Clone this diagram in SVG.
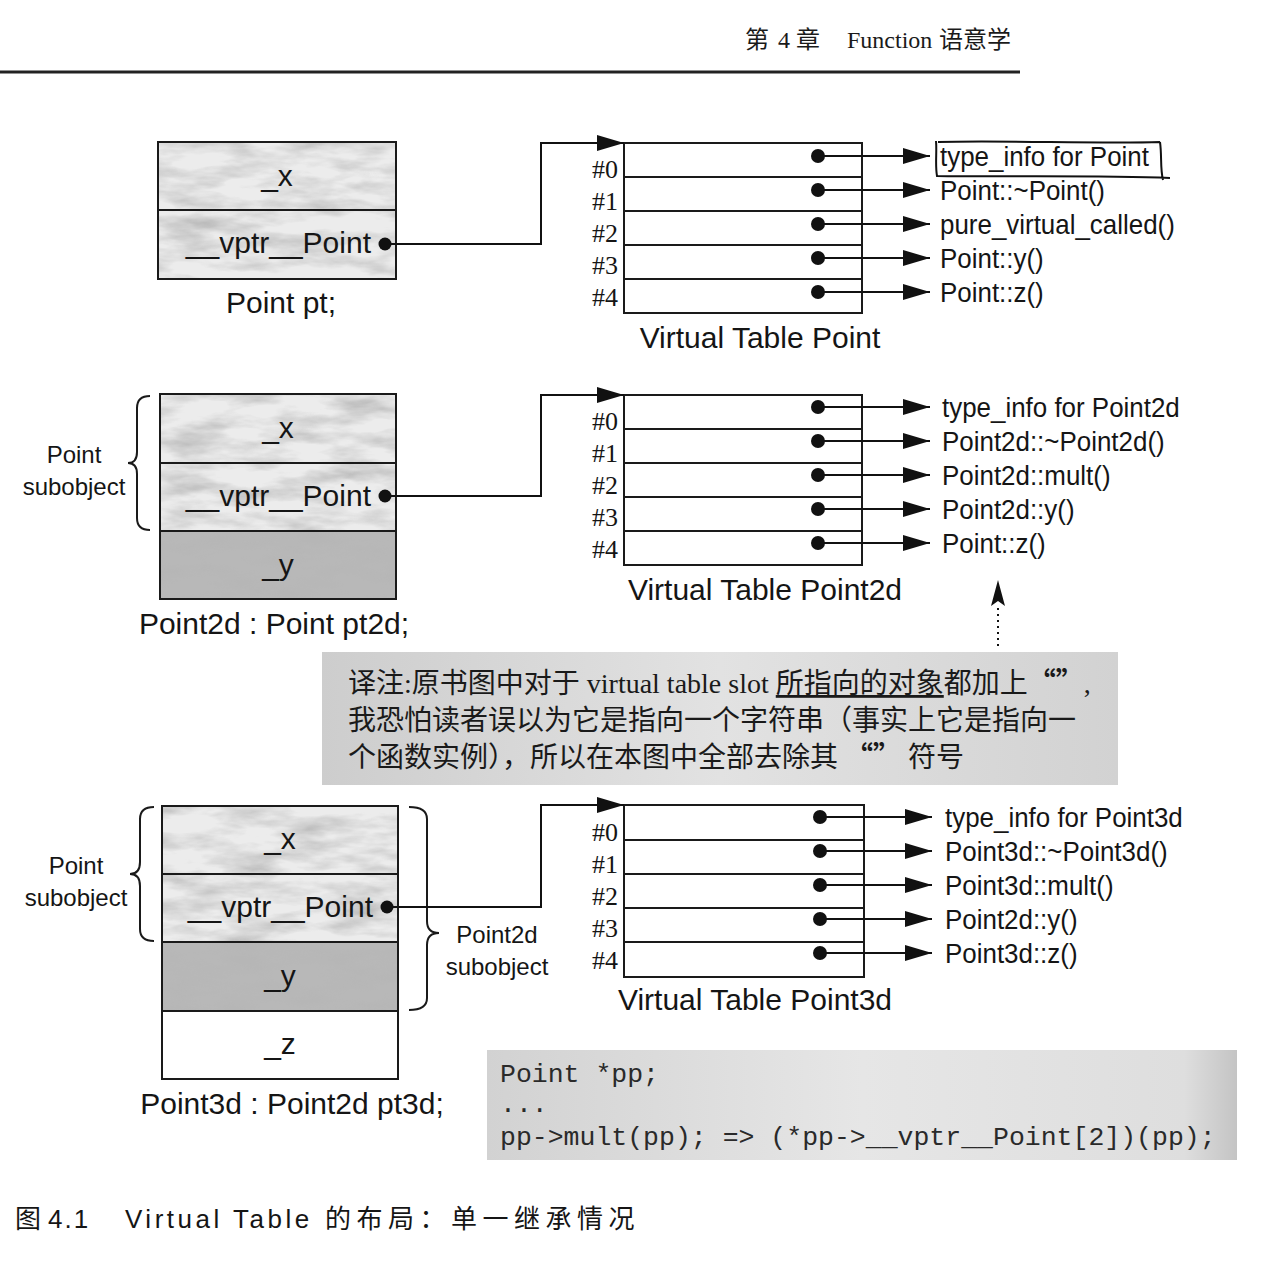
<svg xmlns="http://www.w3.org/2000/svg" width="1280" height="1270" viewBox="0 0 1280 1270">
<style>
.sans{font-family:"Liberation Sans",Arial,sans-serif;fill:#151515}
.big{font-size:30px}
.fn{font-size:28.5px}
.sub{font-size:24px}
.idx{font-family:"Liberation Serif","Times New Roman",serif;font-size:26px;fill:#151515}
.cell{stroke:#1a1a1a;stroke-width:2}
.tbl{fill:#fff;stroke:#1a1a1a;stroke-width:2}
.ln{fill:none;stroke:#111;stroke-width:2}
.dot{fill:#111}
.cjk{font-family:"Liberation Serif","Noto Sans CJK SC",serif;fill:#1a1a1a}
.q{font-family:"Noto Sans CJK SC",sans-serif;font-weight:bold}
.mono{font-family:"Liberation Mono","Courier New",monospace;font-size:26.5px;fill:#2a2a2a}
.brace{fill:none;stroke:#1a1a1a;stroke-width:2}
</style>
<defs>
<marker id="ah" viewBox="0 0 27 16" refX="27" refY="8" markerUnits="userSpaceOnUse" markerWidth="27" markerHeight="16" orient="auto">
<path d="M0,0 L27,8 L0,16 z" fill="#111"/>
</marker>
<filter id="tex" x="0" y="0" width="100%" height="100%">
<feTurbulence type="fractalNoise" baseFrequency="0.018 0.06" numOctaves="4" seed="7"/>
<feColorMatrix type="matrix" values="0 0 0 0 0.45  0 0 0 0 0.45  0 0 0 0 0.45  1.6 0 0 0 -0.62"/>
<feComposite in2="SourceGraphic" operator="in"/>
</filter>
<linearGradient id="noteg" x1="0" y1="0" x2="1" y2="0">
<stop offset="0" stop-color="#cdcdcd"/>
<stop offset="0.5" stop-color="#e2e2e2"/>
<stop offset="1" stop-color="#d2d2d2"/>
</linearGradient>
<linearGradient id="codeg" x1="0" y1="0" x2="1" y2="0">
<stop offset="0" stop-color="#d2d2d2"/>
<stop offset="0.5" stop-color="#e6e6e6"/>
<stop offset="0.93" stop-color="#dedede"/>
<stop offset="1" stop-color="#c4c4c4"/>
</linearGradient>
</defs>
<rect x="0" y="0" width="1280" height="1270" fill="#fff"/>

<g id="header">
<text class="cjk" font-size="24" y="48"><tspan x="745">第</tspan><tspan x="778">4</tspan><tspan x="796">章</tspan><tspan x="847">Function</tspan><tspan x="939">语意学</tspan></text>
<line x1="0" y1="72" x2="1020" y2="72" stroke="#222" stroke-width="3"/>
</g>

<!-- Section 1 -->
<g id="obj-pt">
<rect x="158" y="142" width="238" height="137" fill="#ececec"/>
<rect x="158" y="142" width="238" height="137" fill="#000" filter="url(#tex)"/>
<rect x="158" y="142" width="238" height="137" class="cell" fill="none"/>
<line x1="158" y1="210" x2="396" y2="210" class="cell"/>
<text class="sans big" x="277" y="186" text-anchor="middle">_x</text>
<text class="sans big" x="371" y="253" text-anchor="end">__vptr__Point</text>
<circle class="dot" cx="385" cy="244" r="6.5"/>
<text class="sans big" x="281" y="313" text-anchor="middle">Point pt;</text>
</g>

<g id="vtbl-point">
<rect class="tbl" x="624" y="143" width="238" height="170"/>
<line class="cell" x1="624" y1="177" x2="862" y2="177"/>
<line class="cell" x1="624" y1="211" x2="862" y2="211"/>
<line class="cell" x1="624" y1="245" x2="862" y2="245"/>
<line class="cell" x1="624" y1="279" x2="862" y2="279"/>
<text class="idx" x="618" y="178" text-anchor="end">#0</text>
<text class="idx" x="618" y="210" text-anchor="end">#1</text>
<text class="idx" x="618" y="242" text-anchor="end">#2</text>
<text class="idx" x="618" y="274" text-anchor="end">#3</text>
<text class="idx" x="618" y="306" text-anchor="end">#4</text>
<circle class="dot" cx="818" cy="156" r="7"/>
<circle class="dot" cx="818" cy="190" r="7"/>
<circle class="dot" cx="818" cy="224" r="7"/>
<circle class="dot" cx="818" cy="258" r="7"/>
<circle class="dot" cx="818" cy="292" r="7"/>
<text class="sans big" x="760" y="348" text-anchor="middle">Virtual Table Point</text>
</g>

<g id="fn-point">
<text class="sans fn" transform="matrix(0.91 0 0 1 940 166)">type_info for Point</text>
<path class="ln" d="M938,142 C1000,140 1100,144 1160,142 M1160,142 C1162,156 1160,168 1163,180 M936,141 C937,152 935,165 937,176 C1000,177 1100,175 1170,178"/>
<text class="sans fn" transform="matrix(0.91 0 0 1 940 200)">Point::~Point()</text>
<text class="sans fn" transform="matrix(0.91 0 0 1 940 234)">pure_virtual_called()</text>
<text class="sans fn" transform="matrix(0.91 0 0 1 940 268)">Point::y()</text>
<text class="sans fn" transform="matrix(0.91 0 0 1 940 302)">Point::z()</text>
</g>

<!-- Section 2 -->
<g id="obj-pt2d">
<rect x="160" y="394" width="236" height="137" fill="#ececec"/>
<rect x="160" y="394" width="236" height="137" fill="#000" filter="url(#tex)"/>
<rect x="160" y="531" width="236" height="68" fill="#b8b8b8"/>
<rect x="160" y="531" width="236" height="68" fill="#000" filter="url(#tex)" opacity="0.6"/>
<rect x="160" y="394" width="236" height="205" class="cell" fill="none"/>
<line x1="160" y1="463" x2="396" y2="463" class="cell"/>
<line x1="160" y1="531" x2="396" y2="531" class="cell"/>
<text class="sans big" x="278" y="438" text-anchor="middle">_x</text>
<text class="sans big" x="371" y="506" text-anchor="end">__vptr__Point</text>
<text class="sans big" x="278" y="575" text-anchor="middle">_y</text>
<circle class="dot" cx="385" cy="496" r="6.5"/>
<text class="sans big" x="274" y="634" text-anchor="middle">Point2d : Point pt2d;</text>
<path class="brace" d="M150,396 Q137,396 137,408 L137,452 Q137,463 128,463 Q137,463 137,474 L137,518 Q137,530 150,530"/>
<text class="sans sub" x="74" y="463" text-anchor="middle">Point</text>
<text class="sans sub" x="74" y="495" text-anchor="middle">subobject</text>
</g>

<g id="vtbl-point2d">
<rect class="tbl" x="624" y="395" width="238" height="170"/>
<line class="cell" x1="624" y1="429" x2="862" y2="429"/>
<line class="cell" x1="624" y1="463" x2="862" y2="463"/>
<line class="cell" x1="624" y1="497" x2="862" y2="497"/>
<line class="cell" x1="624" y1="531" x2="862" y2="531"/>
<text class="idx" x="618" y="430" text-anchor="end">#0</text>
<text class="idx" x="618" y="462" text-anchor="end">#1</text>
<text class="idx" x="618" y="494" text-anchor="end">#2</text>
<text class="idx" x="618" y="526" text-anchor="end">#3</text>
<text class="idx" x="618" y="558" text-anchor="end">#4</text>
<circle class="dot" cx="818" cy="407" r="7"/>
<circle class="dot" cx="818" cy="441" r="7"/>
<circle class="dot" cx="818" cy="475" r="7"/>
<circle class="dot" cx="818" cy="509" r="7"/>
<circle class="dot" cx="818" cy="543" r="7"/>
<text class="sans big" x="765" y="600" text-anchor="middle">Virtual Table Point2d</text>
</g>

<g id="fn-point2d">
<text class="sans fn" transform="matrix(0.91 0 0 1 942 417)">type_info for Point2d</text>
<text class="sans fn" transform="matrix(0.91 0 0 1 942 451)">Point2d::~Point2d()</text>
<text class="sans fn" transform="matrix(0.91 0 0 1 942 485)">Point2d::mult()</text>
<text class="sans fn" transform="matrix(0.91 0 0 1 942 519)">Point2d::y()</text>
<text class="sans fn" transform="matrix(0.91 0 0 1 942 553)">Point::z()</text>
</g>

<g id="note">
<rect x="322" y="652" width="796" height="133" fill="url(#noteg)"/>
<text class="cjk" font-size="28" x="348" y="693">译注:原书图中对于 virtual table slot <tspan text-decoration="underline">所指向的对象</tspan>都加上<tspan class="q">“”</tspan>,</text>
<text class="cjk" font-size="28" x="348" y="730">我恐怕读者误以为它是指向一个字符串（事实上它是指向一</text>
<text class="cjk" font-size="28" x="348" y="767">个函数实例），所以在本图中全部去除其 <tspan class="q">“”</tspan> 符号</text>
</g>

<!-- Section 3 -->
<g id="obj-pt3d">
<rect x="162" y="806" width="236" height="136" fill="#ececec"/>
<rect x="162" y="806" width="236" height="136" fill="#000" filter="url(#tex)"/>
<rect x="162" y="942" width="236" height="69" fill="#b8b8b8"/>
<rect x="162" y="942" width="236" height="69" fill="#000" filter="url(#tex)" opacity="0.6"/>
<rect x="162" y="1011" width="236" height="68" fill="#fff"/>
<rect x="162" y="806" width="236" height="273" class="cell" fill="none"/>
<line x1="162" y1="874" x2="398" y2="874" class="cell"/>
<line x1="162" y1="942" x2="398" y2="942" class="cell"/>
<line x1="162" y1="1011" x2="398" y2="1011" class="cell"/>
<text class="sans big" x="280" y="849" text-anchor="middle">_x</text>
<text class="sans big" x="373" y="917" text-anchor="end">__vptr__Point</text>
<text class="sans big" x="280" y="986" text-anchor="middle">_y</text>
<text class="sans big" x="280" y="1054" text-anchor="middle">_z</text>
<circle class="dot" cx="387" cy="907" r="6.5"/>
<text class="sans big" x="292" y="1114" text-anchor="middle">Point3d : Point2d pt3d;</text>
<path class="brace" d="M154,807 Q140,807 140,819 L140,862 Q140,874 130,874 Q140,874 140,886 L140,929 Q140,941 154,941"/>
<text class="sans sub" x="76" y="874" text-anchor="middle">Point</text>
<text class="sans sub" x="76" y="906" text-anchor="middle">subobject</text>
<path class="brace" d="M409,807 Q427,807 427,819 L427,921 Q427,933 439,933 Q427,933 427,945 L427,998 Q427,1010 409,1010"/>
<text class="sans sub" x="497" y="943" text-anchor="middle">Point2d</text>
<text class="sans sub" x="497" y="975" text-anchor="middle">subobject</text>
</g>

<g id="vtbl-point3d">
<rect class="tbl" x="624" y="805" width="240" height="172"/>
<line class="cell" x1="624" y1="840" x2="864" y2="840"/>
<line class="cell" x1="624" y1="874" x2="864" y2="874"/>
<line class="cell" x1="624" y1="908" x2="864" y2="908"/>
<line class="cell" x1="624" y1="942" x2="864" y2="942"/>
<text class="idx" x="618" y="841" text-anchor="end">#0</text>
<text class="idx" x="618" y="873" text-anchor="end">#1</text>
<text class="idx" x="618" y="905" text-anchor="end">#2</text>
<text class="idx" x="618" y="937" text-anchor="end">#3</text>
<text class="idx" x="618" y="969" text-anchor="end">#4</text>
<circle class="dot" cx="820" cy="817" r="7"/>
<circle class="dot" cx="820" cy="851" r="7"/>
<circle class="dot" cx="820" cy="885" r="7"/>
<circle class="dot" cx="820" cy="919" r="7"/>
<circle class="dot" cx="820" cy="953" r="7"/>
<text class="sans big" x="755" y="1010" text-anchor="middle">Virtual Table Point3d</text>
</g>

<g id="fn-point3d">
<text class="sans fn" transform="matrix(0.91 0 0 1 945 827)">type_info for Point3d</text>
<text class="sans fn" transform="matrix(0.91 0 0 1 945 861)">Point3d::~Point3d()</text>
<text class="sans fn" transform="matrix(0.91 0 0 1 945 895)">Point3d::mult()</text>
<text class="sans fn" transform="matrix(0.91 0 0 1 945 929)">Point2d::y()</text>
<text class="sans fn" transform="matrix(0.91 0 0 1 945 963)">Point3d::z()</text>
</g>

<g id="code">
<rect x="487" y="1050" width="750" height="110" fill="url(#codeg)"/>
<text class="mono" x="500" y="1082">Point *pp;</text>
<text class="mono" x="500" y="1112">...</text>
<text class="mono" x="500" y="1145">pp-&gt;mult(pp); =&gt; (*pp-&gt;__vptr__Point[2])(pp);</text>
</g>

<g id="caption">
<text class="sans" font-size="26" y="1228"><tspan x="15" font-family="Noto Sans CJK SC, sans-serif">图</tspan><tspan x="48" letter-spacing="2">4.1</tspan><tspan x="125" letter-spacing="3.5">Virtual Table</tspan><tspan x="325" font-family="Noto Sans CJK SC, sans-serif" letter-spacing="5.5">的布局：单一继承情况</tspan></text>
</g>

<g id="connectors">
<path class="ln" d="M391,244 H541 V143 H624" marker-end="url(#ah)"/>
<path class="ln" d="M391,496 H541 V395 H624" marker-end="url(#ah)"/>
<path class="ln" d="M393,907 H541 V805 H624" marker-end="url(#ah)"/>
<path class="ln" d="M818,156 H930" marker-end="url(#ah)"/>
<path class="ln" d="M818,190 H930" marker-end="url(#ah)"/>
<path class="ln" d="M818,224 H930" marker-end="url(#ah)"/>
<path class="ln" d="M818,258 H930" marker-end="url(#ah)"/>
<path class="ln" d="M818,292 H930" marker-end="url(#ah)"/>
<path class="ln" d="M818,407 H930" marker-end="url(#ah)"/>
<path class="ln" d="M818,441 H930" marker-end="url(#ah)"/>
<path class="ln" d="M818,475 H930" marker-end="url(#ah)"/>
<path class="ln" d="M818,509 H930" marker-end="url(#ah)"/>
<path class="ln" d="M818,543 H930" marker-end="url(#ah)"/>
<path class="ln" d="M820,817 H932" marker-end="url(#ah)"/>
<path class="ln" d="M820,851 H932" marker-end="url(#ah)"/>
<path class="ln" d="M820,885 H932" marker-end="url(#ah)"/>
<path class="ln" d="M820,919 H932" marker-end="url(#ah)"/>
<path class="ln" d="M820,953 H932" marker-end="url(#ah)"/>
<line x1="998" y1="646" x2="998" y2="604" stroke="#111" stroke-width="2" stroke-dasharray="2 4"/>
<path d="M998,580 L1005,606 L998,601 L991,606 z" fill="#111"/>
</g>
</svg>
